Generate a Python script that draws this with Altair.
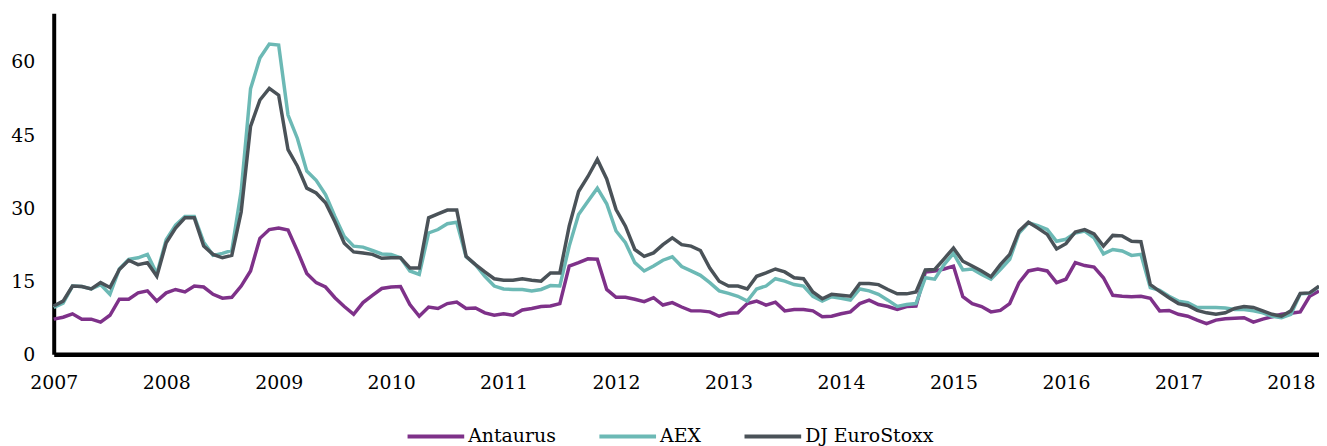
import altair as alt
import pandas as pd

series_names = ["Antaurus", "AEX", "DJ EuroStoxx"]
series_colors = ["#7E3189", "#6CB9B5", "#4A5258"]
year_ticks = list(range(2007, 2019))
y_ticks = [0, 15, 30, 45, 60]

start_year = 2007
# monthly values, Jan 2007 .. Apr 2018
antaurus = [
    7.2, 7.6, 8.3, 7.2, 7.2, 6.6, 8.0, 11.3, 11.3, 12.6, 13.0, 10.9,
    12.6, 13.3, 12.8, 14.0, 13.8, 12.3, 11.5, 11.7, 14.0, 17.1, 23.8, 25.6,
    25.9, 25.5, 21.2, 16.6, 14.7, 13.8, 11.6, 9.8, 8.2, 10.6, 12.1, 13.5,
    13.8, 13.9, 10.2, 7.8, 9.7, 9.4, 10.4, 10.7, 9.4, 9.5, 8.5, 8.0,
    8.3, 8.0, 9.1, 9.4, 9.8, 9.9, 10.4, 18.1, 18.8, 19.6, 19.5, 13.3,
    11.7, 11.7, 11.3, 10.8, 11.6, 10.1, 10.6, 9.7, 8.9, 8.9, 8.7, 7.8,
    8.4, 8.5, 10.4, 10.9, 10.1, 10.7, 8.9, 9.2, 9.2, 8.9, 7.7, 7.8,
    8.3, 8.7, 10.4, 11.1, 10.2, 9.8, 9.2, 9.8, 9.9, 16.9, 17.1, 17.5,
    18.1, 11.8, 10.4, 9.8, 8.7, 9.0, 10.4, 14.7, 17.1, 17.5, 17.1, 14.7,
    15.4, 18.8, 18.2, 17.9, 15.7, 12.1, 11.9, 11.8, 11.9, 11.5, 8.9, 9.0,
    8.2, 7.8, 7.0, 6.3, 7.0, 7.3, 7.4, 7.5, 6.6, 7.2, 7.7, 8.2,
    8.4, 8.7, 11.9, 13.0,
]
aex = [
    9.6, 10.5, 14.0, 13.9, 13.4, 14.3, 12.3, 17.5, 19.5, 19.8, 20.5, 16.5,
    23.5, 26.5, 28.3, 28.3, 23.0, 20.3, 20.7, 21.3, 33.5, 54.5, 60.8, 63.7,
    63.5, 49.1, 44.3, 37.6, 35.7, 32.8, 28.3, 24.2, 22.2, 22.0, 21.3, 20.6,
    20.5, 19.8, 17.1, 16.4, 24.9, 25.6, 26.8, 27.1, 20.0, 18.4, 16.0, 14.0,
    13.4, 13.3, 13.3, 13.0, 13.3, 14.1, 14.0, 22.2, 28.7, 31.4, 34.1, 30.9,
    25.3, 22.9, 18.8, 17.1, 18.1, 19.3, 20.0, 18.0, 17.1, 16.2, 14.7, 13.0,
    12.5, 11.9, 10.9, 13.4, 14.0, 15.5, 15.0, 14.3, 14.0, 11.9, 10.9, 11.8,
    11.5, 11.1, 13.4, 13.0, 12.3, 11.1, 9.8, 10.2, 10.4, 15.7, 15.4, 18.4,
    20.7, 17.3, 17.5, 16.4, 15.4, 17.4, 19.5, 24.9, 27.0, 26.4, 25.6, 23.2,
    23.6, 24.9, 25.3, 23.9, 20.6, 21.5, 21.2, 20.3, 20.5, 13.7, 13.1, 11.9,
    10.9, 10.6, 9.6, 9.6, 9.6, 9.5, 9.2, 9.2, 8.9, 8.5, 7.8, 7.5,
    8.2, 12.4, 12.5, 13.9,
]
dj_eurostoxx = [
    9.9, 10.9, 14.0, 13.9, 13.4, 14.7, 13.7, 17.4, 19.3, 18.4, 18.8, 16.0,
    22.9, 25.9, 28.0, 28.0, 22.2, 20.5, 19.8, 20.3, 29.2, 46.8, 52.2, 54.6,
    53.2, 42.0, 38.6, 34.1, 33.1, 31.1, 27.2, 22.8, 21.0, 20.8, 20.5, 19.7,
    19.8, 19.8, 17.7, 17.7, 28.0, 28.8, 29.6, 29.6, 20.1, 18.4, 16.9, 15.5,
    15.2, 15.2, 15.5, 15.2, 15.0, 16.7, 16.7, 26.3, 33.4, 36.5, 40.0, 36.0,
    29.7, 26.3, 21.5, 20.1, 20.8, 22.5, 23.9, 22.5, 22.2, 21.3, 17.7, 15.0,
    14.0, 14.0, 13.4, 16.0, 16.7, 17.5, 16.9, 15.7, 15.5, 12.8, 11.4, 12.3,
    12.1, 11.9, 14.5, 14.5, 14.3, 13.3, 12.4, 12.4, 12.8, 17.3, 17.4, 19.6,
    21.8, 19.1, 18.1, 17.1, 15.9, 18.4, 20.5, 25.3, 27.1, 25.9, 24.6, 21.6,
    22.7, 25.1, 25.6, 24.7, 22.2, 24.4, 24.3, 23.2, 23.1, 14.3, 12.9, 11.6,
    10.4, 10.0, 9.0, 8.5, 8.2, 8.5, 9.4, 9.8, 9.6, 8.9, 8.2, 7.8,
    8.9, 12.5, 12.6, 14.0,
]

rows = []
for name, vals in zip(series_names, [antaurus, aex, dj_eurostoxx]):
    for i, v in enumerate(vals):
        rows.append({"t": start_year + i / 12.0, "value": v, "series": name, "order": series_names.index(name)})
df = pd.DataFrame(rows)
n_months = len(antaurus) - 1

FONT = "DejaVu Serif"

chart = (
    alt.Chart(df)
    .mark_line(strokeWidth=3.5, strokeJoin="miter")
    .encode(
        x=alt.X(
            "t:Q",
            scale=alt.Scale(domain=[start_year, start_year + n_months / 12.0], nice=False, zero=False),
            axis=alt.Axis(
                values=year_ticks, format="d", title=None, grid=False, ticks=False, tickSize=0,
                domainColor="#000000", domainWidth=4.5, labelPadding=19,
                labelFont=FONT, labelFontSize=19, labelColor="#000000", labelFlush=False,
            ),
        ),
        y=alt.Y(
            "value:Q",
            scale=alt.Scale(domain=[0, 70], nice=False),
            axis=alt.Axis(
                values=y_ticks, title=None, grid=False, ticks=False, tickSize=0,
                domainColor="#000000", domainWidth=4, labelPadding=19,
                labelFont=FONT, labelFontSize=19, labelColor="#000000",
            ),
        ),
        color=alt.Color(
            "series:N",
            scale=alt.Scale(domain=series_names, range=series_colors),
            legend=alt.Legend(
                title=None, orient="none", direction="horizontal",
                legendX=354, legendY=395, symbolType="stroke", symbolSize=3249,
                symbolStrokeWidth=4, labelOffset=2, columnPadding=35, padding=0,
                labelFont=FONT, labelFontSize=19, labelColor="#000000",
            ),
        ),
        order=alt.Order("order:Q"),
        detail="series:N",
    )
    .properties(
        width=1273,
        height=343,
        autosize=alt.AutoSizeParams(type="none"),
        padding={"left": 46, "top": 4, "right": 0, "bottom": 93},
    )
    .configure_view(stroke=None)
)

chart.save("out.html", embed_options={"renderer": "svg", "actions": False})
